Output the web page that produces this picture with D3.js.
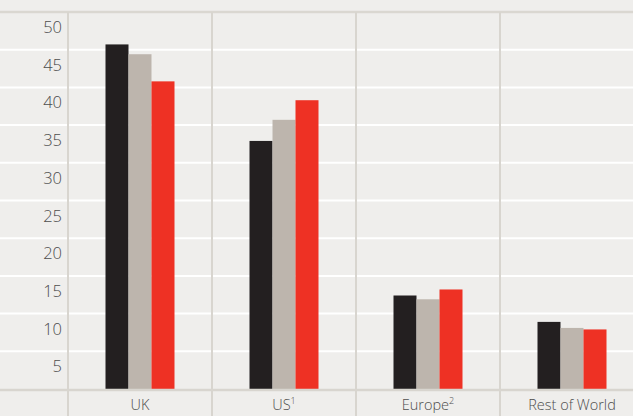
<!DOCTYPE html>
<html lang="en">
<head>
<meta charset="UTF-8">
<title>Chart</title>
<script src="https://d3js.org/d3.v7.min.js"></script>
<style>
  html, body { margin: 0; padding: 0; background: #efeeec; }
  text { font-family: "Open Sans", sans-serif; font-weight: 300; }
</style>
</head>
<body>
<div id="chart"></div>
<script>
  // data
  const regions = ["UK", "US", "Europe", "Rest of World"];
  const notes = ["", "1", "2", ""];
  const series1 = [45.7, 32.9, 12.4, 8.9];   // black
  const series2 = [44.4, 35.7, 11.9, 8.1];   // grey
  const series3 = [40.8, 38.3, 13.2, 7.9];   // red
  const yTicks = [5, 10, 15, 20, 25, 30, 35, 40, 45, 50];
  const seriesNames = ["a", "b", "c"];
  const colors = ["#231f20", "#bdb5ad", "#ee3124"];

  const width = 633, height = 416;
  const plotLeft = 68, plotBase = 389, plotTop = 12;

  const svg = d3.select("#chart").append("svg")
    .attr("width", width)
    .attr("height", height)
    .style("display", "block");

  svg.append("rect").attr("width", width).attr("height", height).attr("fill", "#efeeec");

  const x = d3.scaleBand().domain(regions).range([plotLeft, plotLeft + 144 * 4]);
  const xs = d3.scaleBand().domain(seriesNames).range([0, 69]);
  const y = d3.scaleLinear().domain([0, 50]).range([plotBase, plotTop]);

  // white gridlines
  svg.append("g").selectAll("line")
    .data(yTicks.slice(0, -1))
    .join("line")
    .attr("x1", 0).attr("x2", width)
    .attr("y1", d => y(d)).attr("y2", d => y(d))
    .attr("stroke", "#ffffff").attr("stroke-width", 2);

  // top line
  svg.append("line").attr("x1", 0).attr("x2", width)
    .attr("y1", y(50)).attr("y2", y(50))
    .attr("stroke", "#dad7d1").attr("stroke-width", 2.5);

  // vertical separators
  svg.append("g").selectAll("line")
    .data(regions.map(r => x(r)))
    .join("line")
    .attr("x1", d => d).attr("x2", d => d)
    .attr("y1", y(50)).attr("y2", height)
    .attr("stroke", "#d8d5cf").attr("stroke-width", 2);

  // bars
  const all = [series1, series2, series3];
  regions.forEach((r, i) => {
    const g = svg.append("g").attr("transform", `translate(${x(r) + (x.bandwidth() - 69) / 2},0)`);
    g.selectAll("rect")
      .data(all.map((s, k) => ({ k: seriesNames[k], v: s[i], c: colors[k] })))
      .join("rect")
      .attr("x", d => xs(d.k))
      .attr("width", xs.bandwidth())
      .attr("y", d => y(d.v))
      .attr("height", d => y(0) - y(d.v))
      .attr("fill", d => d.c);
  });

  // baseline
  svg.append("line").attr("x1", 0).attr("x2", width)
    .attr("y1", plotBase + 1).attr("y2", plotBase + 1)
    .attr("stroke", "#d8d5cf").attr("stroke-width", 2.5);

  // y labels sit just under their gridline
  svg.append("g").selectAll("text")
    .data(yTicks)
    .join("text")
    .attr("x", 62)
    .attr("y", d => y(d) + 21)
    .attr("text-anchor", "end")
    .attr("font-size", 16.5)
    .attr("fill", "#4d4d4d")
    .text(d => d);

  // x labels
  const xl = svg.append("g").selectAll("text")
    .data(regions)
    .join("text")
    .attr("x", d => x(d) + x.bandwidth() / 2)
    .attr("y", 410)
    .attr("text-anchor", "middle")
    .attr("font-size", 14.5)
    .attr("fill", "#4d4d4d");
  xl.append("tspan").text(d => d);
  xl.append("tspan")
    .attr("dy", -6)
    .attr("font-size", 9)
    .text((d, i) => notes[i]);
</script>
</body>
</html>
